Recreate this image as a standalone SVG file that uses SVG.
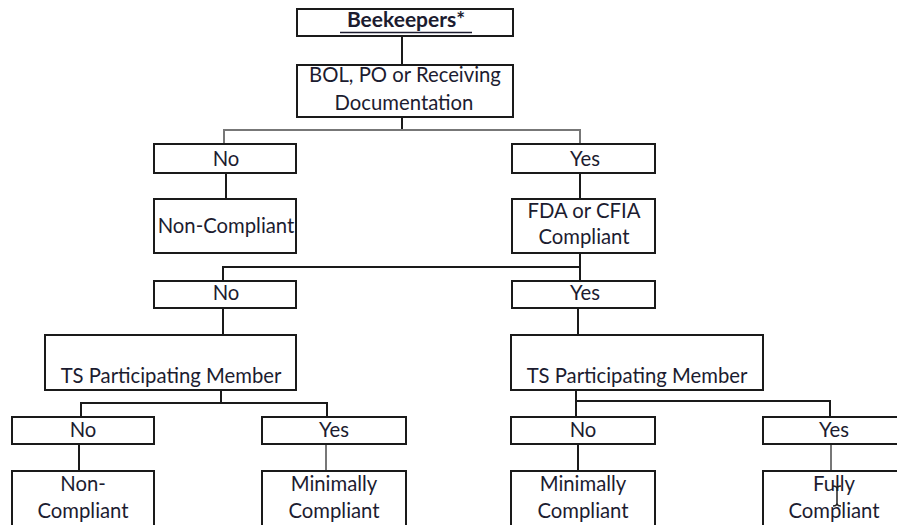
<svg xmlns="http://www.w3.org/2000/svg" width="897" height="525" viewBox="0 0 897 525">
<style>
.box{fill:#fff;stroke:#1a1a1a;stroke-width:2}
.t{font-family:Lato,"Liberation Sans",sans-serif;font-size:20.3px;fill:#1c1c30;text-anchor:middle}
.b{font-weight:bold;font-size:21px}
.c{fill:none;stroke:#1a1a1a;stroke-width:2}
.g{fill:none;stroke:#777;stroke-width:2}
</style>
<rect width="897" height="525" fill="#fff"/>
<g id="connectors">
<path class="c" d="M402 36V65"/>
<path class="c" d="M402 117V131"/>
<path class="g" d="M224 144V130H580V144"/>
<path class="c" d="M226 173V199"/>
<path class="c" d="M580 173V199"/>
<path class="c" d="M580 253V281"/>
<path class="c" d="M223 281V267H580"/>
<path class="c" d="M223 308V335"/>
<path class="c" d="M578 308V335"/>
<path class="c" d="M221 390V403"/>
<path class="c" d="M81 417V403H327V417"/>
<path class="c" d="M576 385V417"/>
<path class="c" d="M576 401H830V417"/>
<path class="c" d="M79 444V471"/>
<path class="g" d="M326 444V471"/>
<path class="c" d="M578 444V471"/>
<path class="g" d="M831 444V471"/>
</g>
<g id="n-beekeepers">
<rect class="box" x="297" y="9" width="216" height="27"/>
<text class="t b" x="406" y="27">Beekeepers*</text>
<path d="M340 32.5H472" stroke="#1c1c30" stroke-width="1.5"/>
</g>
<g id="n-bol">
<rect class="box" x="297" y="65" width="216" height="52"/>
<text class="t" x="405" y="82">BOL, PO or Receiving</text>
<text class="t" x="404" y="110">Documentation</text>
</g>
<g id="n-no1">
<rect class="box" x="154" y="144" width="142" height="29"/>
<text class="t" x="226" y="166">No</text>
</g>
<g id="n-yes1">
<rect class="box" x="512" y="144" width="143" height="29"/>
<text class="t" x="585" y="166">Yes</text>
</g>
<g id="n-noncompliant1">
<rect class="box" x="154" y="199" width="142" height="54"/>
<text class="t" x="226" y="233">Non-Compliant</text>
</g>
<g id="n-fda">
<rect class="box" x="512" y="199" width="143" height="54"/>
<text class="t" x="584" y="218">FDA or CFIA</text>
<text class="t" x="584" y="244">Compliant</text>
</g>
<g id="n-no2">
<rect class="box" x="154" y="281" width="142" height="27"/>
<text class="t" x="226" y="300">No</text>
</g>
<g id="n-yes2">
<rect class="box" x="512" y="281" width="143" height="27"/>
<text class="t" x="585" y="300">Yes</text>
</g>
<g id="n-ts-left">
<rect class="box" x="45" y="335" width="251" height="55"/>
<text class="t" x="171" y="383">TS Participating Member</text>
</g>
<g id="n-ts-right">
<rect class="box" x="511" y="335" width="252" height="55"/>
<text class="t" x="637" y="383">TS Participating Member</text>
</g>
<g id="n-no3-left">
<rect class="box" x="12" y="417" width="142" height="27"/>
<text class="t" x="83" y="437">No</text>
</g>
<g id="n-yes3-left">
<rect class="box" x="262" y="417" width="144" height="27"/>
<text class="t" x="334" y="437">Yes</text>
</g>
<g id="n-no3-right">
<rect class="box" x="511" y="417" width="144" height="27"/>
<text class="t" x="583" y="437">No</text>
</g>
<g id="n-yes3-right">
<rect class="box" x="763" y="417" width="143" height="27"/>
<text class="t" x="834" y="437">Yes</text>
</g>
<g id="n-noncompliant2">
<rect class="box" x="12" y="471" width="142" height="60"/>
<text class="t" x="83" y="491">Non-</text>
<text class="t" x="83" y="518">Compliant</text>
</g>
<g id="n-minimal-left">
<rect class="box" x="262" y="471" width="144" height="60"/>
<text class="t" x="334" y="491">Minimally</text>
<text class="t" x="334" y="518">Compliant</text>
</g>
<g id="n-minimal-right">
<rect class="box" x="511" y="471" width="144" height="60"/>
<text class="t" x="583" y="491">Minimally</text>
<text class="t" x="583" y="518">Compliant</text>
</g>
<g id="n-fully">
<rect class="box" x="763" y="471" width="143" height="60"/>
<text class="t" x="834" y="491">Fully</text>
<text class="t" x="834" y="518">Compliant</text>
</g>
<path d="M833 486Q837 486 837 489V503Q837 506 833 506M841 486Q837 486 837 489M837 503Q837 506 841 506" fill="none" stroke="#222" stroke-width="1.5"/>
</svg>
